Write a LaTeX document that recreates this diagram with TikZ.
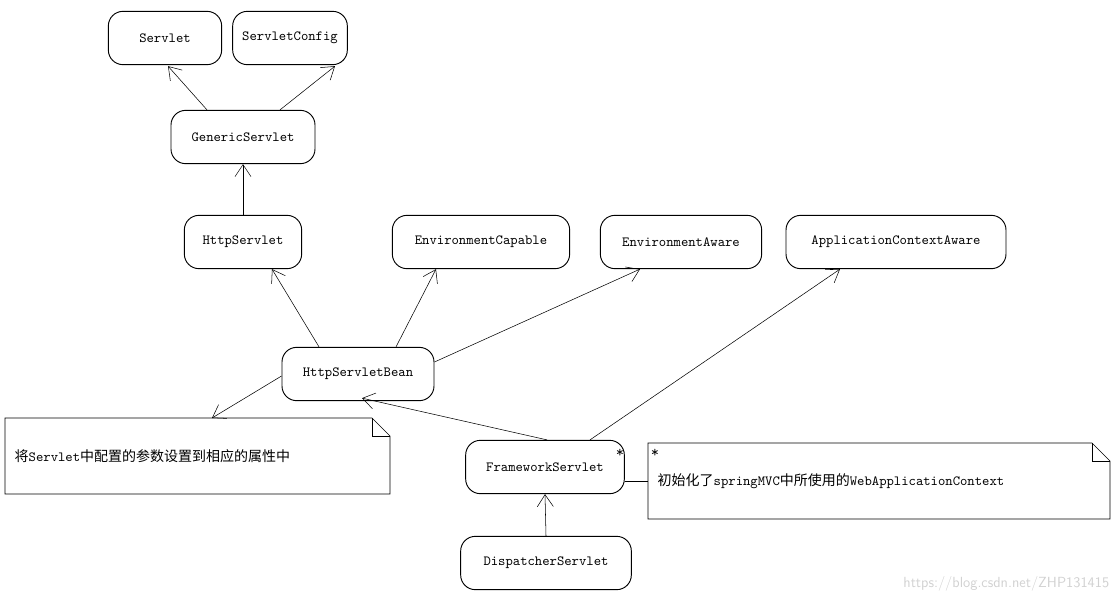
\documentclass[tikz,border=0pt]{standalone}
\usepackage{fontspec}
\newfontfamily\cjk{Noto Sans CJK SC}
\usetikzlibrary{arrows.meta,calc}
\begin{document}
\begin{tikzpicture}[x=0.75pt,y=-0.75pt] % 1 unit = 1 px
\tikzstyle{cls} = [draw, rounded corners=11pt, line width=0.7pt, inner sep=0pt, minimum height=40pt, font=\ttfamily\fontsize{10.5}{12}\selectfont] % class box
\tikzstyle{inh} = [-{Straight Barb[length=9pt,width=12pt]}, thin] % open arrow
\tikzstyle{note} = [draw, thin]
\useasboundingbox (0,0) rectangle (1120,604);

\node[cls, minimum width=85pt] (sv) at (165,38) {Servlet};
\node[cls, minimum width=86pt] (sc) at (290,38) {ServletConfig};
\node[cls, minimum width=108pt] (gs) at (243,137) {GenericServlet};
\node[cls, minimum width=88pt] (hs) at (243,242) {HttpServlet};
\node[cls, minimum width=133pt] (ec) at (481,242) {EnvironmentCapable};
\node[cls, minimum width=121pt] (ea) at (681,242) {EnvironmentAware};
\node[cls, minimum width=165pt] (aca) at (896,242) {ApplicationContextAware};
\node[cls, minimum width=114pt] (hsb) at (358,374) {HttpServletBean};
\node[cls, minimum width=119pt] (fs) at (545,467) {FrameworkServlet};
\node[cls, minimum width=128pt] (ds) at (546,563) {DispatcherServlet};

% notes
\draw[note] (5,418) -- (372,418) -- (390,436) -- (390,494) -- (5,494) -- cycle;
\draw[note] (372,418) -- (372,436) -- (390,436);
\node[anchor=west, font=\cjk\fontsize{10.5}{12}\selectfont] (n1) at (10,456) {将{\ttfamily Servlet}中配置的参数设置到相应的属性中};
\draw[note] (648,443) -- (1092,443) -- (1110,461) -- (1110,519) -- (648,519) -- cycle;
\draw[note] (1092,443) -- (1092,461) -- (1110,461);
\node[anchor=west, font=\cjk\fontsize{10.5}{12}\selectfont] (n2) at (653,481) {初始化了{\ttfamily springMVC}中所使用的{\ttfamily WebApplicationContext}};
\node[font=\ttfamily\fontsize{12}{12}\selectfont] (st1) at (620,453) {*};
\node[font=\ttfamily\fontsize{12}{12}\selectfont] (st2) at (655,453) {*};
\coordinate (n2l) at (648,481);
\draw[thin] (fs.east |- n2l) -- (n2l);

% inheritance
\draw[inh] ($(gs.north)+(-36,0)$) -- ($(sv.south)+(3,1)$);
\draw[inh] ($(gs.north)+(37,0)$) -- ($(sc.south)+(45,1)$);
\draw[inh] (hs.north) -- (gs.south);
\draw[inh] ($(hsb.north)+(-39,0)$) -- ($(hs.south)+(29,0)$);
\draw[inh] ($(hsb.north)+(38,0)$) -- ($(ec.south)+(-45,0)$);
\draw[inh] ($(hsb.east)+(0,-12)$) -- ($(ea.south)+(-41,0)$);
\draw[inh] ($(fs.north)+(45,0)$) -- ($(aca.south)+(-56,0)$);
\draw[inh] ($(fs.north)+(2,0)$) -- ($(hsb.south)+(4,-3)$);
\draw[inh] (ds.north) -- (fs.south);
\coordinate (n1t) at (212,418);
\draw[inh] ($(hsb.west)+(0,2)$) -- (n1t);

\node[anchor=east, text=black!18, font=\sffamily\fontsize{11}{12}\selectfont] (wm) at (1114,584) {https://blog.csdn.net/ZHP131415};
\end{tikzpicture}
\end{document}
